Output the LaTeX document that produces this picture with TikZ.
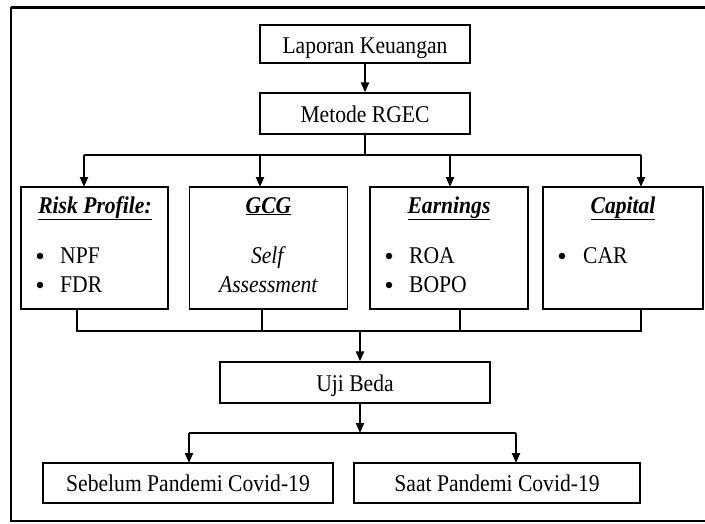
\documentclass[tikz,border=0pt]{standalone}
\usepackage{fontspec}
\setmainfont{Liberation Serif}
\usetikzlibrary{arrows.meta}
\newcommand{\sx}[1]{\scalebox{0.9}[1]{#1}}
\tikzset{
  box/.style={draw=black, line width=1.3pt, fill=white, inner sep=0pt},
  conn/.style={line width=2.2pt, draw=black},
  arr/.style={conn, -{Triangle[width=8pt,length=10pt]}},
  txt/.style={inner sep=0pt, anchor=base, font=\fontsize{24}{28}\selectfont},
  bul/.style={inner sep=0pt, anchor=base west, font=\fontsize{24}{28}\selectfont},
  dot/.style={circle, fill=black, inner sep=0pt, minimum size=6.5pt},
}
\begin{document}
\begin{tikzpicture}[x=1pt,y=-1pt]
\useasboundingbox (0,0) rectangle (705,523);
% frame
\draw[line width=3pt] (11,7) -- (705,7);
\draw[line width=1.3pt] (11,7) -- (11,521) -- (705,521);

\node[box, minimum width=210pt, minimum height=38pt] (lk) at (365,44) {};
\node[txt] (lkt) at (365,53) {\sx{Laporan Keuangan}};
\node[box, minimum width=210pt, minimum height=41pt] (mr) at (365,113.5) {};
\node[txt] (mrt) at (365,122) {\sx{Metode RGEC}};

\node[box, minimum width=147pt, minimum height=122pt] (rp) at (94.5,248) {};
\node[box, minimum width=158pt, minimum height=122pt] (gcg) at (268.5,248) {};
\node[box, minimum width=158pt, minimum height=122pt] (earn) at (449,248) {};
\node[box, minimum width=160pt, minimum height=122pt] (cap) at (623,248) {};

\node[txt] (rph) at (95,213) {\sx{\underline{\textbf{\textit{Risk Profile:}}}}};
\node[txt] (gcgh) at (268.5,213) {\sx{\underline{\textbf{\textit{GCG}}}}};
\node[txt] (earnh) at (449,213) {\sx{\underline{\textbf{\textit{Earnings}}}}};
\node[txt] (caph) at (623,213) {\sx{\underline{\textbf{\textit{Capital}}}}};

\node[dot] (b1) at (40,256) {};
\node[bul] (n1) at (60,263) {\sx{NPF}};
\node[dot] (b2) at (40,285) {};
\node[bul] (n2) at (60,292) {\sx{FDR}};
\node[txt] (s1) at (268.5,263) {\sx{\textit{Self}}};
\node[txt] (s2) at (268.5,292) {\sx{\textit{Assessment}}};
\node[dot] (b3) at (389,256) {};
\node[bul] (n3) at (409,263) {\sx{ROA}};
\node[dot] (b4) at (389,285) {};
\node[bul] (n4) at (409,292) {\sx{BOPO}};
\node[dot] (b5) at (562,256) {};
\node[bul] (n5) at (583,263) {\sx{CAR}};

\node[box, minimum width=270pt, minimum height=41pt] (ub) at (355,382.5) {};
\node[txt] (ubt) at (355,391) {\sx{Uji Beda}};

\node[box, minimum width=290pt, minimum height=40pt] (seb) at (188,483) {};
\node[txt] (sebt) at (188,491) {\sx{Sebelum Pandemi Covid-19}};
\node[box, minimum width=286pt, minimum height=40pt] (saat) at (497,483) {};
\node[txt] (saatt) at (497,491) {\sx{Saat Pandemi Covid-19}};

% connectors
\draw[arr] (lk.south) -- (mr.north);
\coordinate (j1) at (365,155);
\draw[conn] (mr.south) -- (j1);
\draw[conn] (84,155) -- (641,155);
\draw[arr] (84,155) -- (84,187);
\draw[arr] (260,155) -- (260,187);
\draw[arr] (450,155) -- (450,187);
\draw[arr] (641,155) -- (641,187);

\coordinate (j2) at (360,331);
\draw[conn] (77,309) -- (77,331) -- (641,331) -- (641,309);
\draw[conn] (262,309) -- (262,331);
\draw[conn] (460,309) -- (460,331);
\draw[arr] (j2) -- (ub.north -| j2);

\coordinate (j3) at (360,433);
\draw[arr] (ub.south -| j3) -- (j3);
\draw[conn] (189,433) -- (516,433);
\draw[arr] (189,433) -- (189,463);
\draw[arr] (516,433) -- (516,463);
\end{tikzpicture}
\end{document}
